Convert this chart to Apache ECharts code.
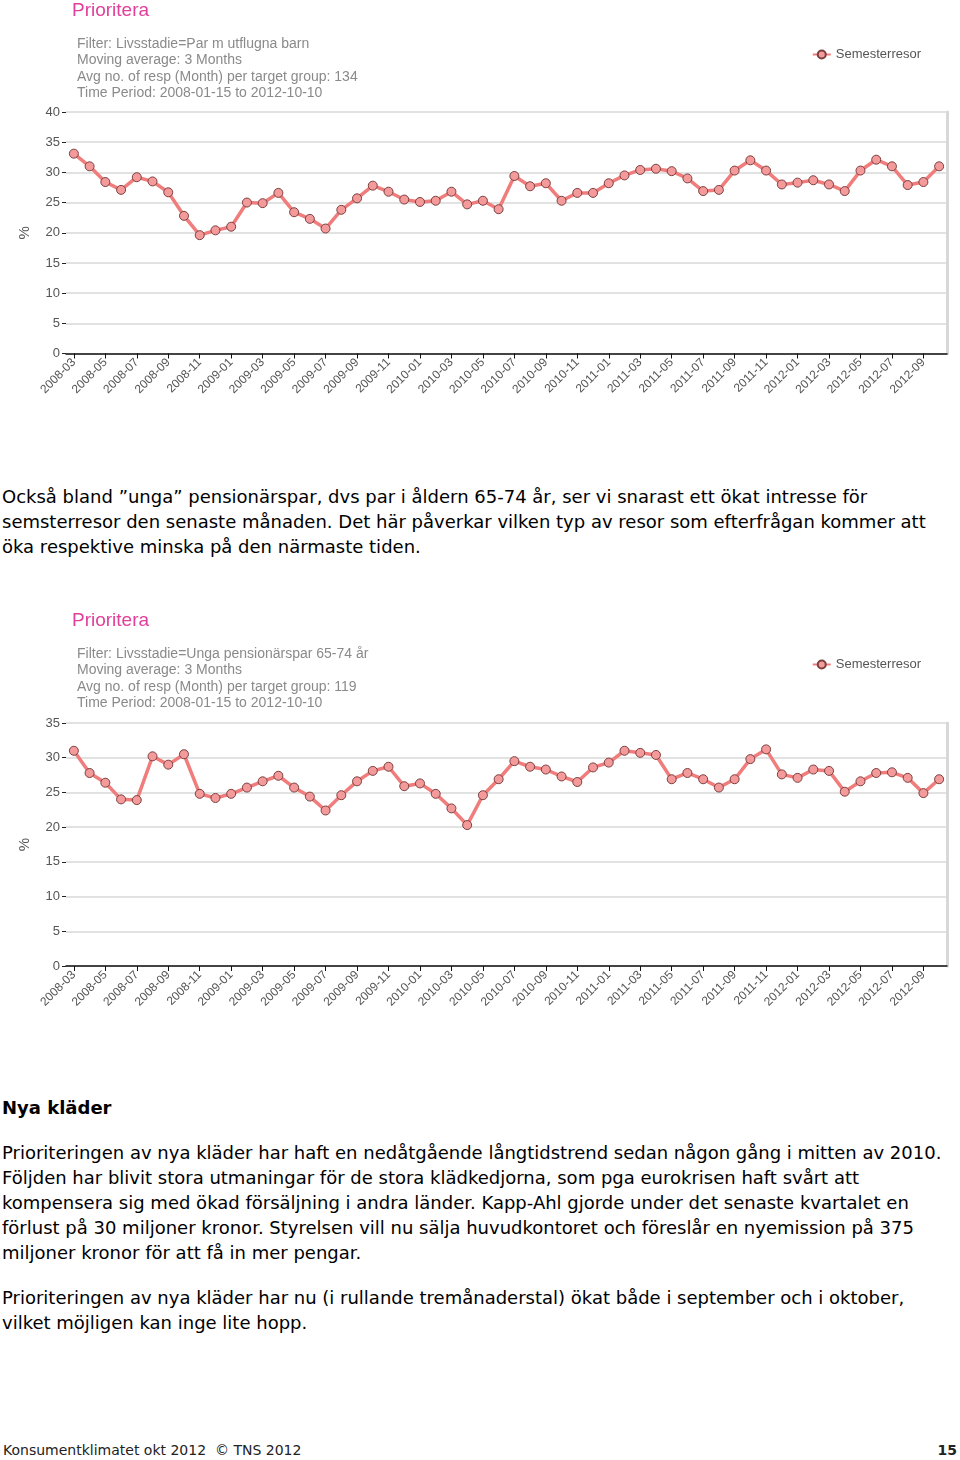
<!DOCTYPE html>
<html><head><meta charset="utf-8">
<script src="https://cdn.jsdelivr.net/npm/echarts@6/dist/echarts.min.js"></script>
<style>
html,body{margin:0;padding:0;background:#fff;width:960px;height:1460px;overflow:hidden;position:relative;}
.chart{position:absolute;left:0;width:960px;height:425px;}
.txt{position:absolute;left:2px;width:952px;font-family:"DejaVu Sans",Verdana,sans-serif;font-size:18px;line-height:25px;color:#000;}
.foot{position:absolute;top:1442px;left:3px;font-family:"DejaVu Sans",sans-serif;font-size:14px;color:#222;}
.pg{position:absolute;top:1442px;right:3px;font-family:"DejaVu Sans",sans-serif;font-size:14px;font-weight:bold;color:#222;}
</style></head><body>
<div id="c1" class="chart" style="top:0px"></div>
<div class="txt" style="top:484px">Också bland ”unga” pensionärspar, dvs par i åldern 65-74 år, ser vi snarast ett ökat intresse för semsterresor den senaste månaden. Det här påverkar vilken typ av resor som efterfrågan kommer att öka respektive minska på den närmaste tiden.</div>
<div id="c2" class="chart" style="top:610px"></div>
<div class="txt" style="top:1095px;font-weight:bold">Nya kläder</div>
<div class="txt" style="top:1140px">Prioriteringen av nya kläder har haft en nedåtgående långtidstrend sedan någon gång i mitten av 2010. Följden har blivit stora utmaningar för de stora klädkedjorna, som pga eurokrisen haft svårt att kompensera sig med ökad försäljning i andra länder. Kapp-Ahl gjorde under det senaste kvartalet en förlust på 30 miljoner kronor. Styrelsen vill nu sälja huvudkontoret och föreslår en nyemission på 375 miljoner kronor för att få in mer pengar.</div>
<div class="txt" style="top:1285px">Prioriteringen av nya kläder har nu (i rullande tremånaderstal) ökat både i september och i oktober, vilket möjligen kan inge lite hopp.</div>
<div class="foot">Konsumentklimatet okt 2012 &nbsp;© TNS 2012</div>
<div class="pg">15</div>
<script>
// Months 2008-03 .. 2012-10
const months = ["2008-03","2008-04","2008-05","2008-06","2008-07","2008-08","2008-09","2008-10","2008-11","2008-12",
"2009-01","2009-02","2009-03","2009-04","2009-05","2009-06","2009-07","2009-08","2009-09","2009-10","2009-11","2009-12",
"2010-01","2010-02","2010-03","2010-04","2010-05","2010-06","2010-07","2010-08","2010-09","2010-10","2010-11","2010-12",
"2011-01","2011-02","2011-03","2011-04","2011-05","2011-06","2011-07","2011-08","2011-09","2011-10","2011-11","2011-12",
"2012-01","2012-02","2012-03","2012-04","2012-05","2012-06","2012-07","2012-08","2012-09","2012-10"];

const seriesName = "Semesterresor";
const title = "Prioritera";

// Chart 1: Par m utflugna barn
const info1 = ["Filter: Livsstadie=Par m utflugna barn","Moving average: 3 Months","Avg no. of resp (Month) per target group: 134","Time Period: 2008-01-15 to 2012-10-10"];
const values1 = [33.1,31.0,28.4,27.1,29.2,28.5,26.7,22.8,19.6,20.4,
21.0,25.0,24.9,26.6,23.4,22.3,20.7,23.8,25.7,27.8,
26.8,25.5,25.1,25.3,26.8,24.7,25.3,23.9,29.4,27.7,
28.2,25.3,26.6,26.6,28.2,29.5,30.4,30.6,30.2,29.0,
26.9,27.1,30.3,32.0,30.3,28.0,28.3,28.7,28.0,26.9,
30.3,32.1,31.0,27.9,28.4,31.0];
const yTicks1 = {min:0,max:40,interval:5};

// Chart 2: Unga pensionärspar 65-74 år
const info2 = ["Filter: Livsstadie=Unga pensionärspar 65-74 år","Moving average: 3 Months","Avg no. of resp (Month) per target group: 119","Time Period: 2008-01-15 to 2012-10-10"];
const values2 = [31.0,27.8,26.4,24.0,23.9,30.2,29.0,30.5,24.8,24.2,
24.8,25.7,26.6,27.4,25.7,24.4,22.4,24.6,26.6,28.1,
28.7,25.9,26.3,24.8,22.7,20.3,24.6,26.9,29.5,28.7,
28.3,27.3,26.5,28.6,29.3,31.0,30.7,30.4,26.9,27.8,
26.9,25.7,26.9,29.8,31.2,27.6,27.1,28.3,28.1,25.1,
26.6,27.8,27.9,27.1,24.9,26.9];
const yTicks2 = {min:0,max:35,interval:5};

function makeOption(info, values, yt, gridTop, gridH){
  const graphics = [
    {type:'text', left:72, top:1, style:{text:title, fill:'#e0409a', font:'19px "Liberation Sans", Arial, sans-serif'}},
  ];
  info.forEach((t,i)=>{
    graphics.push({type:'text', left:77, top:37+i*16.4, style:{text:t, fill:'#8a8a8a', font:'14px "Liberation Sans", Arial, sans-serif'}});
  });
  return {
    animation:false,
    textStyle:{fontFamily:'"Liberation Sans", Arial, sans-serif'},
    graphic: graphics,
    legend:{right:34, top:43, itemWidth:18, itemHeight:10, itemGap:5,
      textStyle:{color:'#555', fontSize:13}, data:[seriesName]},
    grid:{left:66, right:13, top:gridTop, height:gridH, show:true, borderColor:'#e0e0e0', borderWidth:0},
    xAxis:{type:'category', data:months, boundaryGap:true,
      axisLine:{show:true, lineStyle:{color:'#111', width:1.5}},
      axisTick:{show:true, interval:1, alignWithLabel:true, length:5, lineStyle:{color:'#111'}},
      axisLabel:{interval:1, rotate:45, color:'#555', fontSize:12, margin:7},
      splitLine:{show:false}},
    yAxis:[{type:'value', min:yt.min, max:yt.max, interval:yt.interval,
      name:'%', nameLocation:'middle', nameGap:34, nameRotate:90,
      nameTextStyle:{color:'#555', fontSize:15},
      axisLine:{show:false},
      axisTick:{show:true, length:4, lineStyle:{color:'#222'}},
      axisLabel:{color:'#555', fontSize:13, margin:6},
      splitLine:{show:true, lineStyle:{color:'#d8d8d8', width:1.5}}},
      {type:'value', position:'right', min:yt.min, max:yt.max, interval:yt.interval,
      axisLine:{show:true, lineStyle:{color:'#d8d8d8', width:3}}, axisTick:{show:false}, axisLabel:{show:false}, splitLine:{show:false}}],
    series:[{name:seriesName, type:'line', data:values, yAxisIndex:0,
      symbol:'circle', symbolSize:9,
      lineStyle:{color:'#f07c7c', width:3.5},
      itemStyle:{color:'#f49a9a', borderColor:'#7a4040', borderWidth:1}}]
  };
}

const ch1 = echarts.init(document.getElementById('c1'), null, {renderer:'canvas'});
ch1.setOption(makeOption(info1, values1, yTicks1, 112, 241.5));
const ch2 = echarts.init(document.getElementById('c2'), null, {renderer:'canvas'});
ch2.setOption(makeOption(info2, values2, yTicks2, 113, 243));
</script>
</body></html>
